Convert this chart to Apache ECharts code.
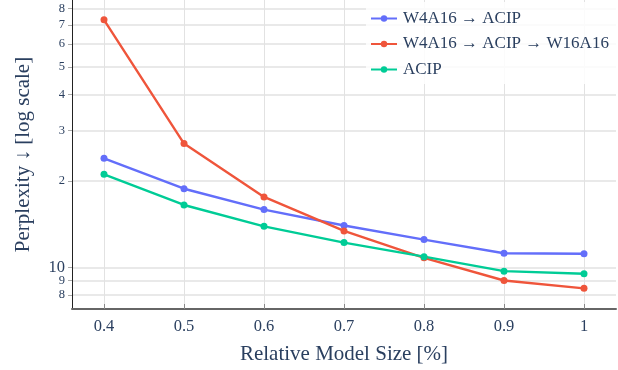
<!DOCTYPE html>
<html>
<head>
<meta charset="utf-8">
<script src="https://cdn.jsdelivr.net/npm/echarts@6/dist/echarts.min.js"></script>
<style>
  html, body { margin: 0; padding: 0; background: #fff; }
  #main { width: 618px; height: 370px; }
</style>
</head>
<body>
<div id="main"></div>
<script>
// relative model size
const sizes = [0.4, 0.5, 0.6, 0.7, 0.8, 0.9, 1.0];
// perplexity values
const w4a16Acip = [24.0, 18.8, 15.9, 14.0, 12.5, 11.2, 11.15];
const w4a16AcipW16 = [72.9, 27.0, 17.6, 13.4, 10.8, 9.0, 8.45];
const acip = [21.1, 16.5, 13.9, 12.2, 10.9, 9.7, 9.5];

const xTicks = [0.4, 0.5, 0.6, 0.7, 0.8, 0.9, 1];
const yTicks = [8, 9, 10, 20, 30, 40, 50, 60, 70, 80];

const txt = '#2a3f5f';
const font = 'Liberation Serif';

const chart = echarts.init(document.getElementById('main'));

function pairs(vals) {
  return sizes.map((s, i) => [s, vals[i]]);
}

function lineSeries(name, vals, color) {
  return {
    name: name,
    type: 'line',
    data: pairs(vals),
    symbol: 'circle',
    symbolSize: 7,
    lineStyle: { width: 2.4, color: color },
    itemStyle: { color: color },
    emphasis: { disabled: true },
    animation: false
  };
}

const option = {
  textStyle: { fontFamily: font },
  grid: { left: 72, right: 2, top: 0, bottom: 60 },
  legend: {
    orient: 'vertical',
    left: 366,
    top: 2,
    padding: [8, 8, 6, 4],
    itemWidth: 26,
    itemHeight: 8,
    itemGap: 8.5,
    backgroundColor: 'rgba(255,255,255,0.85)',
    textStyle: { fontFamily: font, fontSize: 17, color: txt, lineHeight: 17, padding: [0, 0, 0, 1] },
    data: ['W4A16 → ACIP', 'W4A16 → ACIP → W16A16', 'ACIP']
  },
  xAxis: {
    type: 'value',
    min: 0.36,
    max: 1.04,
    name: 'Relative Model Size [%]',
    nameLocation: 'middle',
    nameGap: 35,
    nameTextStyle: { fontFamily: font, fontSize: 21, color: txt },
    axisLine: { lineStyle: { color: '#666', width: 2 } },
    axisTick: { show: true, inside: true, length: 5, customValues: xTicks, lineStyle: { color: '#888' } },
    axisLabel: {
      customValues: xTicks,
      margin: 9,
      fontFamily: font,
      fontSize: 16.5,
      color: txt,
      formatter: v => String(Math.round(v * 10) / 10)
    },
    splitLine: { show: true, lineStyle: { color: '#e2e2e2', width: 1 } }
  },
  yAxis: {
    type: 'log',
    logBase: 10,
    min: 7.16,
    max: 85.5,
    name: 'Perplexity ↓ [log scale]',
    nameLocation: 'middle',
    nameGap: 38,
    nameTextStyle: { fontFamily: font, fontSize: 21, color: txt },
    axisLine: { show: true, lineStyle: { color: '#222', width: 1 } },
    axisTick: { show: true, length: 4, customValues: yTicks, lineStyle: { color: '#aaa' } },
    axisLabel: {
      customValues: yTicks,
      margin: 7,
      fontFamily: font,
      fontSize: 12.5,
      color: txt,
      formatter: function (v) {
        if (Math.abs(v - 10) < 0.01) return '{big|10}';
        const p = Math.pow(10, Math.floor(Math.log10(v) + 1e-9));
        return String(Math.round(v / p));
      },
      rich: { big: { fontFamily: font, fontSize: 16.5, color: txt } }
    },
    splitLine: { show: true, lineStyle: { color: '#e2e2e2', width: 1.5 } }
  },
  series: [
    lineSeries('W4A16 → ACIP', w4a16Acip, '#636efa'),
    lineSeries('W4A16 → ACIP → W16A16', w4a16AcipW16, '#ef553b'),
    lineSeries('ACIP', acip, '#00cc96')
  ]
};

chart.setOption(option);
</script>
</body>
</html>
